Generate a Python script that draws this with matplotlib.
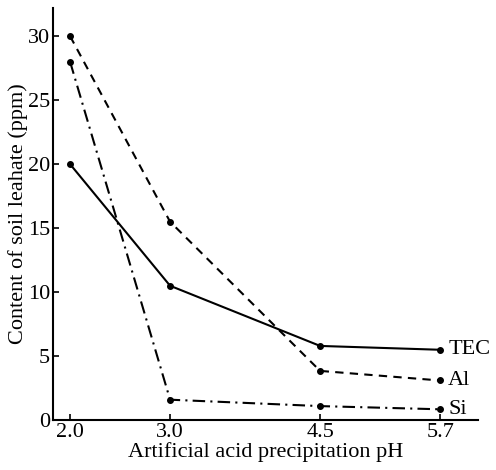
import matplotlib
matplotlib.use("Agg")
import matplotlib.pyplot as plt

plt.rcParams['font.family'] = ['Liberation Serif', 'DejaVu Serif']

ph = [2.0, 3.0, 4.5, 5.7]
tec = [20.0, 10.5, 5.8, 5.5]
al = [30.0, 15.5, 3.85, 3.1]
si = [28.0, 1.6, 1.1, 0.85]
names = ['TEC', 'Al', 'Si']

fig = plt.figure(figsize=(4.96, 4.70), dpi=100)
ax = fig.add_axes([0.107, 0.106, 0.857, 0.877])

styles = ['-', (0, (4, 3)), (0, (6, 2.5, 1, 2.5))]
for vals, ls, nm in zip([tec, al, si], styles, names):
    ax.plot(ph, vals, color='black', linestyle=ls, linewidth=1.5,
            marker='o', markersize=4)
    ax.text(ph[-1] + 0.08, vals[-1], nm, fontsize=16, va='center', ha='left')

ax.set_xlim(1.83, 6.08)
ax.set_ylim(0, 32.2)
ax.set_xticks(ph)
ax.set_xticklabels(['2.0', '3.0', '4.5', '5.7'])
ax.set_yticks([0, 5, 10, 15, 20, 25, 30])
ax.tick_params(direction='in', length=4, labelsize=16, width=1.2, pad=2)
ax.spines['top'].set_visible(False)
ax.spines['right'].set_visible(False)
ax.spines['left'].set_linewidth(1.5)
ax.spines['bottom'].set_linewidth(1.5)
ax.set_xlabel('Artificial acid precipitation pH', fontsize=16, labelpad=0)
ax.set_ylabel('Content of soil leahate (ppm)', fontsize=16, labelpad=0)

fig.savefig('out.png', dpi=100)
